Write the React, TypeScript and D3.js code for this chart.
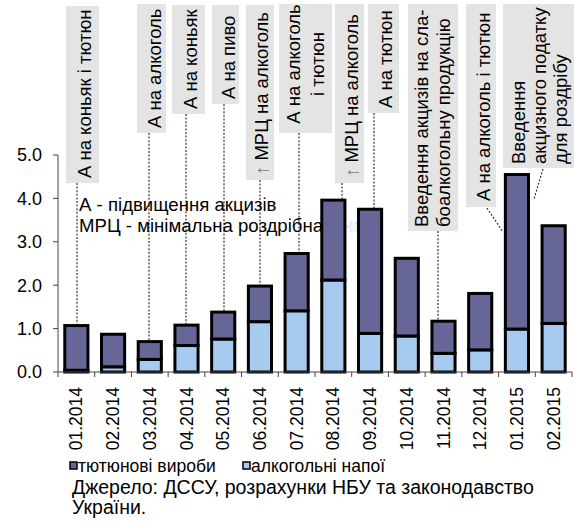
import React from "react";
import * as d3 from "d3";

const categories = ["01.2014","02.2014","03.2014","04.2014","05.2014","06.2014","07.2014","08.2014","09.2014","10.2014","11.2014","12.2014","01.2015","02.2015"];
const alcohol = [0.04,0.12,0.29,0.61,0.76,1.16,1.41,2.12,0.89,0.83,0.43,0.51,0.99,1.12];
const tobacco = [1.03,0.75,0.41,0.47,0.62,0.82,1.32,1.84,2.86,1.79,0.74,1.30,3.56,2.25];
const yTicks = [0,1,2,3,4,5];
const seriesKeys = ["alcohol","tobacco"];
const seriesNames = ["тютюнові вироби","алкогольні напої"];
const legendKeys = ["tobacco","alcohol"];

const W = 574, H = 522;
const FONT = "'Liberation Sans', Arial, sans-serif";
const COLORS: Record<string,string> = { alcohol: "#a6caf0", tobacco: "#666699" };

// annotation layout: box [x0,y0,x1,y1], text baselines, pointer line
type Ann = { lines: string[]; box: number[]; bx: number[]; ty: number; anchor: string; ln: number[]; cat?: string; arrow?: boolean };
const annotations: Ann[] = [
  { lines: ["А на коньяк і тютюн"], box: [66,6,99,183], bx: [91], ty: 178, anchor: "start", ln: [77,183,77], cat: "01.2014" },
  { lines: ["А на алкоголь"], box: [137,4,166,133], bx: [161], ty: 128, anchor: "start", ln: [149,133,149], cat: "03.2014" },
  { lines: ["А на коньяк"], box: [172,5,205,114], bx: [197], ty: 109, anchor: "start", ln: [186,114,186], cat: "04.2014" },
  { lines: ["А на пиво"], box: [212,5,239,104], bx: [235], ty: 99, anchor: "start", ln: [224,104,224], cat: "05.2014" },
  { lines: ["МРЦ на алкоголь"], arrow: true, box: [246,5,274,180], bx: [268], ty: 175, anchor: "start", ln: [260,180,260], cat: "06.2014" },
  { lines: ["А на алкоголь","і тютюн"], box: [279,4,332,133], bx: [300,324], ty: 64, anchor: "middle", ln: [299,133,299], cat: "07.2014" },
  { lines: ["МРЦ на алкоголь"], arrow: true, box: [335,4,364,183], bx: [358], ty: 177, anchor: "start", ln: [342,183,342,199] },
  { lines: ["А на тютюн"], box: [368,4,399,113], bx: [392], ty: 108, anchor: "start", ln: [374,113,374], cat: "09.2014" },
  { lines: ["Введення акцизів на сла-","боалкогольну продукцію"], box: [408,4,458,231], bx: [428,450], ty: 227, anchor: "start", ln: [438,231,438], cat: "11.2014" },
  { lines: ["А на алкоголь і тютюн"], box: [466,4,496,207], bx: [490], ty: 201, anchor: "start", ln: [487,208,503,232] },
  { lines: ["Введення","акцизного податку","для роздрібу"], box: [503,4,580,168], bx: [525,546,567], ty: 164, anchor: "start", ln: [543,169,534,199] },
];

export default function App() {
  const x = d3.scaleBand<string>().domain(categories).range([58, 572]).paddingInner(0.37).paddingOuter(0.185);
  const y = d3.scaleLinear().domain([0, 5]).range([372, 155]);
  const rows = categories.map((c, i) => ({ cat: c, alcohol: alcohol[i], tobacco: tobacco[i] }));
  const stacked = d3.stack<any>().keys(seriesKeys)(rows);
  const step = x.step();
  const x0 = 58;
  const totals = categories.map((_, i) => alcohol[i] + tobacco[i]);

  return (
    <svg width={W} height={H} style={{ position: "absolute", left: 0, top: 0, background: "#fff" }} fontFamily={FONT}>
      {/* pointer lines */}
      {annotations.map((a, i) => {
        const idx = a.cat ? categories.indexOf(a.cat) : -1;
        const y2 = a.ln.length >= 4 ? a.ln[3] : y(totals[idx]);
        return <line key={"l" + i} x1={a.ln[0]} y1={a.ln[1]} x2={a.ln[2]} y2={y2} stroke="#222" strokeWidth={1.1} strokeDasharray="2 1.6" />;
      })}
      {/* annotation boxes */}
      {annotations.map((a, i) => (
        <g key={"a" + i}>
          <rect x={a.box[0]} y={a.box[1]} width={a.box[2] - a.box[0]} height={a.box[3] - a.box[1]} fill="#e4e4e4" />
          {a.lines.map((t, j) => (
            <text key={j} transform={`translate(${a.bx[j]},${a.ty}) rotate(-90)`} textAnchor={a.anchor} fontSize={18.5} fill="#000">
              {a.arrow && j === 0 ? <tspan fill="#777">↑ </tspan> : null}{t}
            </text>
          ))}
        </g>
      ))}
      {/* legend text in plot */}
      <text x={79} y={211} fontSize={18.6}>А - підвищення акцизів</text>
      <text x={79} y={232} fontSize={18.6}>МРЦ - мінімальна роздрібна <tspan fill="#fff" stroke="#bbb" strokeWidth={0.3}>ціна</tspan></text>
      {/* bars */}
      {stacked.map((s) => (
        <g key={s.key}>
          {s.map((d, i) => (
            <rect key={i} x={x(categories[i])} y={y(d[1])} width={x.bandwidth()} height={Math.max(0, y(d[0]) - y(d[1]))}
              fill={COLORS[s.key]} stroke="#000" strokeWidth={3} />
          ))}
        </g>
      ))}
      {/* y axis */}
      <line x1={x0} x2={x0} y1={y(5)} y2={y(0)} stroke="#444" strokeWidth={1} />
      {yTicks.map((t) => (
        <g key={t}>
          <line x1={x0 - 5} x2={x0} y1={y(t)} y2={y(t)} stroke="#444" />
          <text x={42} y={y(t)} dy="0.36em" textAnchor="end" fontSize={18}>{t.toFixed(1)}</text>
        </g>
      ))}
      {/* x axis */}
      <line x1={x0} x2={572} y1={y(0)} y2={y(0)} stroke="#444" />
      {d3.range(categories.length + 1).map((i) => (
        <line key={i} x1={x0 + i * step} x2={x0 + i * step} y1={y(0)} y2={y(0) + 5} stroke="#444" />
      ))}
      {categories.map((c) => (
        <text key={c} transform={`translate(${(x(c) as number) + x.bandwidth() / 2 + 6},387) rotate(-90)`} textAnchor="end" fontSize={17.5}>{c}</text>
      ))}
      {/* legend */}
      {seriesNames.map((n, i) => {
        const lx = i === 0 ? 70 : 243;
        return (
          <g key={n}>
            <rect x={lx} y={462} width={7} height={7} fill={COLORS[legendKeys[i]]} stroke="#000" strokeWidth={1.5} />
            <text x={lx + 8} y={472} fontSize={17.5}>{n}</text>
          </g>
        );
      })}
      <text x={72} y={494} fontSize={19.5}>Джерело: ДССУ, розрахунки НБУ та законодавство</text>
      <text x={72} y={514} fontSize={19.5}>України.</text>
    </svg>
  );
}
